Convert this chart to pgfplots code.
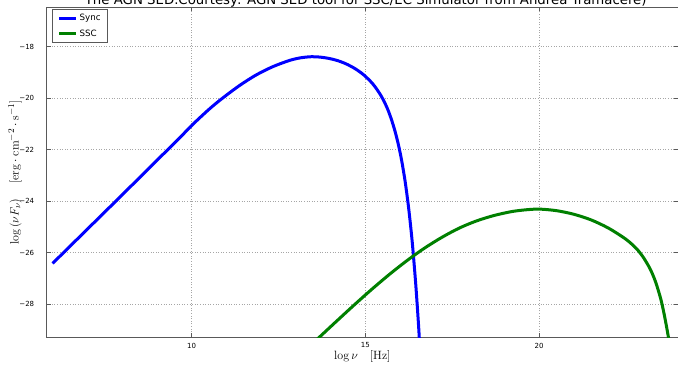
\documentclass[border=0pt]{standalone}
\usepackage[no-math]{fontspec}
\usepackage{pgfplots}
\pgfplotsset{compat=1.18}
\newfontfamily\dejavu{DejaVu Sans}
\definecolor{mplblue}{RGB}{0,0,255}
\definecolor{mplgreen}{RGB}{0,128,0}

\begin{document}
\begin{tikzpicture}
\begin{axis}[
  at={(0pt,0pt)}, anchor=south west,
  scale only axis, width=631.3pt, height=330pt,
  xmin=5.83, xmax=24, ymin=-29.29, ymax=-16.47,
  xtick={10,15,20}, xticklabels={10,15,20},
  ytick={-28,-26,-24,-22,-20,-18},
  yticklabels={−28,−26,−24,−22,−20,−18},
  tick label style={font=\dejavu\fontsize{7}{8}\selectfont},
  yticklabel style={xshift=-9pt},
  xticklabel style={yshift=-2pt},
  grid=major, grid style={dash pattern=on 0.8pt off 1.8pt, black!35, line width=0.6pt},
  axis line style={black!65, line width=0.8pt},
  tick align=inside, major tick length=4pt, tick style={black!65, line width=0.6pt},
  xlabel={$\log\nu\quad[\mathrm{Hz}]$},
  ylabel={$\log\left(\nu F_{\nu}\right)\quad[\mathrm{erg}\cdot\mathrm{cm}^{-2}\cdot\mathrm{s}^{-1}]$},
  xlabel style={font=\fontsize{12}{14}\selectfont, at={(axis description cs:0.5,0)}, anchor=base, yshift=-22.7pt},
  ylabel style={font=\fontsize{12.8}{15}\selectfont, at={(axis description cs:0,0.5)}, anchor=center, yshift=31.7pt},
  legend style={at={(axis description cs:0,1)}, anchor=north west, xshift=5.6pt, yshift=-2pt,
    draw=black!65, line width=0.8pt, font=\dejavu\fontsize{8.7}{10}\selectfont,
    inner xsep=5pt, inner ysep=2.5pt, row sep=3.5pt},
  legend cell align=left,
  legend image code/.code={\draw[#1, line width=3pt] (0pt,0pt) -- (17pt,0pt);},
]
\addplot[mplblue, line width=3pt, smooth] coordinates {
(6.00,-26.42) (7.00,-25.09) (8.00,-23.76) (9.00,-22.42) (9.60,-21.62)
(10.05,-21.00) (10.53,-20.40) (10.91,-19.98) (11.39,-19.50) (11.87,-19.09)
(12.35,-18.77) (12.83,-18.53) (13.15,-18.43) (13.45,-18.39) (13.70,-18.405)
(13.95,-18.455) (14.20,-18.54) (14.45,-18.67) (14.70,-18.85) (14.95,-19.09)
(15.20,-19.42) (15.35,-19.69) (15.45,-19.90) (15.55,-20.15) (15.65,-20.45)
(15.75,-20.82) (15.85,-21.26) (15.95,-21.79) (16.05,-22.45) (16.15,-23.27)
(16.25,-24.30) (16.35,-25.58) (16.45,-27.20) (16.53,-28.77) (16.57,-29.70)
};
\addlegendentry{Sync}
\addplot[mplgreen, line width=3pt, smooth] coordinates {
(13.60,-29.38) (13.69,-29.27) (14.20,-28.63) (14.70,-28.01) (15.20,-27.41)
(15.70,-26.84) (16.20,-26.31) (16.70,-25.83) (17.20,-25.41) (17.70,-25.05)
(18.20,-24.77) (18.70,-24.56) (19.20,-24.41) (19.60,-24.34) (20.00,-24.31)
(20.50,-24.37) (21.00,-24.51) (21.50,-24.73) (22.00,-25.05) (22.50,-25.48)
(22.80,-25.84) (23.00,-26.18) (23.20,-26.64) (23.35,-27.12) (23.50,-27.78)
(23.60,-28.38) (23.70,-29.10) (23.78,-29.75)
};
\addlegendentry{SSC}
\end{axis}
\begin{scope}
\clip (-46.7pt,-28.7pt) rectangle (631.3pt,337.3pt);
\node[font=\dejavu\fontsize{13.3}{15}\selectfont, anchor=base, inner sep=0pt] at (319pt,332.3pt)
  {The AGN SED.Courtesy: AGN SED tool for SSC/EC Simulator from Andrea Tramacere)};
\end{scope}
\pgfresetboundingbox
\useasboundingbox (-46.7pt,-28.7pt) rectangle (631.3pt,337.3pt);
\end{tikzpicture}
\end{document}
